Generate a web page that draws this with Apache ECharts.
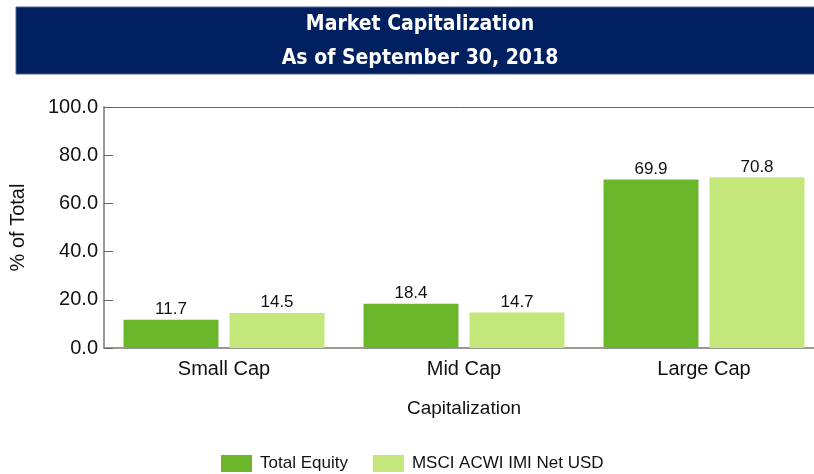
<!DOCTYPE html>
<html>
<head>
<meta charset="utf-8">
<script src="https://cdn.jsdelivr.net/npm/echarts@6/dist/echarts.min.js"></script>
<style>
  html, body { margin: 0; padding: 0; background: #fff; }
  #chart { width: 814px; height: 474px; }
</style>
</head>
<body>
<div id="chart"></div>
<script>
const categories = ["Small Cap", "Mid Cap", "Large Cap"]
const totalEquity = [11.7, 18.4, 69.9]
const msciAcwi = [14.5, 14.7, 70.8]
const seriesNames = ["Total Equity", "MSCI ACWI IMI Net USD"]

const font = "'Liberation Sans', Arial, sans-serif"
const titleFont = "'Liberation Sans Narrow', 'DejaVu Sans Condensed', 'Liberation Sans', sans-serif"

let chart = echarts.init(document.getElementById("chart"))

function barLabel() {
    return {
        show: true,
        position: "top",
        distance: 2,
        fontFamily: font,
        fontSize: 17,
        color: "#111",
        formatter: p => p.value.toFixed(1)
    }
}

chart.setOption({
    animation: false,
    graphic: [{
        type: "rect",
        shape: { x: 16, y: 7, width: 800, height: 67 },
        style: { fill: "#002060", stroke: "#4a6491", lineWidth: 1 },
        z: 0
    }],
    title: {
        text: "Market Capitalization\nAs of September 30, 2018",
        left: 415,
        top: 3,
        textAlign: "center",
        textStyle: {
            color: "#fff",
            fontFamily: titleFont,
            fontWeight: "bold",
            fontSize: 21,
            lineHeight: 34
        },
        z: 10
    },
    legend: {
        top: 455,
        left: 221,
        padding: 0,
        itemWidth: 31,
        itemHeight: 17,
        itemGap: 25,
        icon: "rect",
        textStyle: { fontFamily: font, fontSize: 17, color: "#111", padding: [0, 0, 0, 3] },
        data: seriesNames
    },
    grid: { left: 104, top: 107, width: 720, height: 241, outerBoundsMode: "none", containLabel: false },
    xAxis: [{
        type: "category",
        data: categories,
        name: "Capitalization",
        nameLocation: "middle",
        nameGap: 51,
        nameTextStyle: { fontFamily: font, fontSize: 19, color: "#111" },
        axisLine: { lineStyle: { color: "#999", width: 2 } },
        axisTick: { length: 6, lineStyle: { color: "#444" } },
        axisLabel: { fontFamily: font, fontSize: 20, color: "#111", margin: 11 }
    }, {
        type: "category",
        data: categories,
        position: "top",
        axisLine: { lineStyle: { color: "#666", width: 1 } },
        axisTick: { show: false },
        axisLabel: { show: false }
    }],
    yAxis: {
        type: "value",
        min: 0,
        max: 100,
        interval: 20,
        name: "% of Total",
        nameLocation: "middle",
        nameGap: 76,
        nameTextStyle: { fontFamily: font, fontSize: 20, color: "#111" },
        axisLine: { show: true, lineStyle: { color: "#999", width: 2 } },
        axisTick: { show: true, inside: true, length: 9, lineStyle: { color: "#666" } },
        splitLine: { show: false },
        axisLabel: {
            fontFamily: font,
            fontSize: 20,
            color: "#111",
            margin: 6,
            formatter: v => v.toFixed(1)
        }
    },
    series: [{
        name: seriesNames[0],
        type: "bar",
        data: totalEquity,
        barWidth: 95,
        barGap: "11.6%",
        itemStyle: { color: "#6cb62c" },
        label: barLabel()
    }, {
        name: seriesNames[1],
        type: "bar",
        data: msciAcwi,
        barWidth: 95,
        itemStyle: { color: "#c3e77a" },
        label: barLabel()
    }]
})
</script>
</body>
</html>
